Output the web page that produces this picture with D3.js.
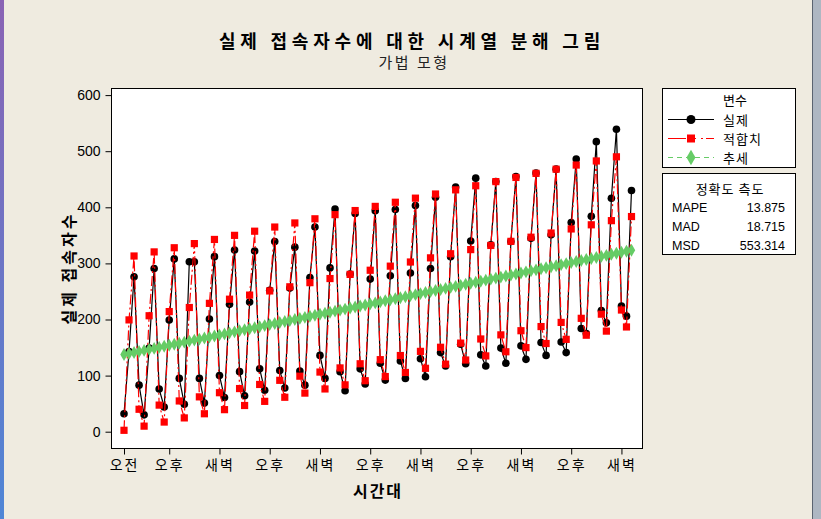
<!DOCTYPE html>
<html>
<head>
<meta charset="utf-8">
<script src="https://cdn.jsdelivr.net/npm/d3@7"></script>
<style>
  html, body { margin: 0; padding: 0; background: #EFEBE0; }
  svg { display: block; }
  text { font-family: "Liberation Sans", "Noto Sans CJK KR", sans-serif; }
</style>
</head>
<body>
<svg id="chart" width="821" height="519"></svg>
<script>
// 실제 접속자수 (시점 1..102)
const actual = [
  32, 143, 276, 83, 30, 149, 291, 76, 44, 199,
  308, 95, 49, 303, 303, 95, 51, 201, 312, 100,
  61, 227, 324, 107, 64, 231, 322, 112, 74, 252,
  339, 109, 78, 256, 329, 108, 83, 275, 365, 136,
  95, 292, 397, 107, 73, 281, 389, 112, 85, 272,
  394, 122, 92, 278, 396, 126, 95, 283, 403, 130,
  98, 291, 418, 141, 117, 312, 436, 156, 121, 340,
  452, 137, 117, 333, 446, 149, 122, 339, 455, 153,
  129, 345, 461, 159, 136, 351, 468, 160, 141, 373,
  486, 184, 175, 384, 517, 216, 194, 416, 539, 224,
  206, 430
];

// 적합치 (추세 + 계절성분)
const fitted = [
  2.5, 199.3, 313.2, 40.0, 9.9, 206.7, 320.5, 47.4, 17.2, 214.1,
  327.9, 54.8, 24.6, 221.4, 335.3, 62.1, 32.0, 228.8, 342.7, 69.5,
  39.3, 236.2, 350.0, 76.9, 46.7, 243.5, 357.4, 84.2, 54.1, 250.9,
  364.8, 91.6, 61.4, 258.3, 372.1, 99.0, 68.8, 265.7, 379.5, 106.3,
  76.2, 273.0, 386.9, 113.7, 83.5, 280.4, 394.2, 121.1, 90.9, 287.8,
  401.6, 128.4, 98.3, 295.1, 409.0, 135.8, 105.6, 302.5, 416.3, 143.2,
  113.0, 309.9, 423.7, 150.5, 120.4, 317.2, 431.1, 157.9, 127.8, 324.6,
  438.4, 165.3, 135.1, 332.0, 445.8, 172.6, 142.5, 339.3, 453.2, 180.0,
  149.9, 346.7, 460.5, 187.4, 157.2, 354.1, 467.9, 194.8, 164.6, 361.4,
  475.3, 202.1, 172.0, 368.8, 482.6, 209.5, 179.3, 376.2, 490.0, 216.9,
  186.7, 383.5
];

// 추세
const trend = [
  137.5, 139.3, 141.2, 143.0, 144.9, 146.7, 148.5, 150.4, 152.2, 154.1,
  155.9, 157.8, 159.6, 161.4, 163.3, 165.1, 167.0, 168.8, 170.7, 172.5,
  174.3, 176.2, 178.0, 179.9, 181.7, 183.5, 185.4, 187.2, 189.1, 190.9,
  192.8, 194.6, 196.4, 198.3, 200.1, 202.0, 203.8, 205.7, 207.5, 209.3,
  211.2, 213.0, 214.9, 216.7, 218.5, 220.4, 222.2, 224.1, 225.9, 227.8,
  229.6, 231.4, 233.3, 235.1, 237.0, 238.8, 240.6, 242.5, 244.3, 246.2,
  248.0, 249.9, 251.7, 253.5, 255.4, 257.2, 259.1, 260.9, 262.8, 264.6,
  266.4, 268.3, 270.1, 272.0, 273.8, 275.6, 277.5, 279.3, 281.2, 283.0,
  284.9, 286.7, 288.5, 290.4, 292.2, 294.1, 295.9, 297.8, 299.6, 301.4,
  303.3, 305.1, 307.0, 308.8, 310.6, 312.5, 314.3, 316.2, 318.0, 319.9,
  321.7, 323.5
];

const xTickIndex  = [1, 10, 20, 30, 40, 50, 60, 70, 80, 90, 100];
const xTickLabels = ["오전", "오후", "새벽", "오후", "새벽", "오후", "새벽", "오후", "새벽", "오후", "새벽"];
const yTicks = [0, 100, 200, 300, 400, 500, 600];

const legendNames = ["실제", "적합치", "추세"];
const accuracyNames = ["MAPE", "MAD", "MSD"];
const accuracyValues = ["13.875", "18.715", "553.314"];

const C_ACTUAL = "#000000", C_FIT = "#FF0000", C_TREND = "#66CC66";
const KR = "'Noto Sans CJK KR', sans-serif";

const svg = d3.select("#chart");

// window edges
const defs = svg.append("defs");
const lg = defs.append("linearGradient").attr("id", "edgeL").attr("x1", 0).attr("y1", 0).attr("x2", 0).attr("y2", 1);
lg.append("stop").attr("offset", "0%").attr("stop-color", "#8A63B4");
lg.append("stop").attr("offset", "100%").attr("stop-color", "#4F86D6");
svg.append("rect").attr("x", 0).attr("y", 0).attr("width", 821).attr("height", 519).attr("fill", "#EFEBE0");
svg.append("rect").attr("x", 0).attr("y", 0).attr("width", 4).attr("height", 519).attr("fill", "url(#edgeL)");
svg.append("rect").attr("x", 812).attr("y", 0).attr("width", 9).attr("height", 519).attr("fill", "#AEB7C2");
svg.append("line").attr("x1", 812.5).attr("x2", 812.5).attr("y1", 0).attr("y2", 519).attr("stroke", "#5B6470");

// plot frame
const P = { left: 111, top: 88, right: 642, bottom: 448 };
svg.append("rect")
  .attr("x", P.left + 0.5).attr("y", P.top + 0.5)
  .attr("width", P.right - P.left).attr("height", P.bottom - P.top)
  .attr("fill", "#FFFFFF").attr("stroke", "#000").attr("stroke-width", 1);

const x = d3.scaleLinear().domain([1, 102]).range([124, 631.5]);
const y = d3.scaleLinear().domain([0, 600]).range([431.7, 95.1]);

// axes
const gy = svg.append("g").attr("transform", `translate(${P.left + 0.5},0)`)
  .call(d3.axisLeft(y).tickValues(yTicks).tickSize(6).tickPadding(5));
gy.select(".domain").remove();
gy.selectAll("text").attr("font-size", 14).attr("fill", "#000")
  .style("font-family", "'Liberation Sans', sans-serif");
gy.selectAll("line").attr("stroke", "#000");

const gx = svg.append("g").attr("transform", `translate(0,${P.bottom + 0.5})`)
  .call(d3.axisBottom(x).tickValues(xTickIndex).tickSize(6).tickPadding(6)
    .tickFormat((d, i) => xTickLabels[i]));
gx.select(".domain").remove();
gx.selectAll("text").attr("font-size", 14).attr("fill", "#000")
  .attr("letter-spacing", 2).style("font-family", KR);
gx.selectAll("line").attr("stroke", "#000");

// titles
svg.append("text").attr("x", 412).attr("y", 48).attr("text-anchor", "middle")
  .attr("font-size", 18).attr("font-weight", "bold").attr("letter-spacing", 4.8)
  .style("font-family", KR).text("실제 접속자수에 대한 시계열 분해 그림");
svg.append("text").attr("x", 414).attr("y", 68).attr("text-anchor", "middle")
  .attr("font-size", 15).attr("letter-spacing", 2.5).attr("fill", "#222")
  .style("font-family", KR).text("가법 모형");
svg.append("text").attr("x", 378).attr("y", 497).attr("text-anchor", "middle")
  .attr("font-size", 16).attr("font-weight", "bold").attr("letter-spacing", 2)
  .style("font-family", KR).text("시간대");
svg.append("text").attr("transform", "translate(75,268) rotate(-90)").attr("text-anchor", "middle")
  .attr("font-size", 16).attr("font-weight", "bold").attr("letter-spacing", 3)
  .style("font-family", KR).text("실제 접속자수");

// series
const idx = d3.range(1, actual.length + 1);
const plot = svg.append("g");
const line = arr => d3.line().x((d, i) => x(idx[i])).y(d => y(d))(arr);

plot.append("path").attr("d", line(actual)).attr("fill", "none")
  .attr("stroke", C_ACTUAL).attr("stroke-width", 1.2);
plot.selectAll("circle.act").data(actual).join("circle").attr("class", "act")
  .attr("cx", (d, i) => x(idx[i])).attr("cy", d => y(d)).attr("r", 3.8).attr("fill", C_ACTUAL);

plot.append("path").attr("d", line(fitted)).attr("fill", "none")
  .attr("stroke", C_FIT).attr("stroke-width", 1.2).attr("stroke-dasharray", "10,3,2,3");
plot.selectAll("rect.fit").data(fitted).join("rect").attr("class", "fit")
  .attr("x", (d, i) => x(idx[i]) - 3.6).attr("y", d => y(d) - 3.6)
  .attr("width", 7.2).attr("height", 7.2).attr("fill", C_FIT);

plot.append("path").attr("d", line(trend)).attr("fill", "none")
  .attr("stroke", C_TREND).attr("stroke-width", 1.2).attr("stroke-dasharray", "5,4");
const diamond = d3.symbol().type(d3.symbolDiamond).size(48);
plot.selectAll("path.tr").data(trend).join("path").attr("class", "tr")
  .attr("transform", (d, i) => `translate(${x(idx[i])},${y(d)})`)
  .attr("d", diamond).attr("fill", C_TREND);

// legend: variables
const L = svg.append("g");
L.append("rect").attr("x", 662.5).attr("y", 88.5).attr("width", 133).attr("height", 79)
  .attr("fill", "#FFFFFF").attr("stroke", "#000");
L.append("text").attr("x", 735).attr("y", 105).attr("text-anchor", "middle")
  .attr("font-size", 13).style("font-family", KR).text("변수");
const ly = [119.5, 138.5, 157.5];
const lcol = [C_ACTUAL, C_FIT, C_TREND];
const ldash = [null, "18,2,8,5,2,3", "5,4"];
legendNames.forEach((name, i) => {
  L.append("line").attr("x1", 668).attr("x2", 714).attr("y1", ly[i]).attr("y2", ly[i])
    .attr("stroke", lcol[i]).attr("stroke-width", 1.2).attr("stroke-dasharray", ldash[i]);
  if (i === 0) L.append("circle").attr("cx", 691).attr("cy", ly[i]).attr("r", 4.5).attr("fill", lcol[i]);
  if (i === 1) L.append("rect").attr("x", 687).attr("y", ly[i] - 4).attr("width", 8).attr("height", 8).attr("fill", lcol[i]);
  if (i === 2) L.append("path").attr("transform", `translate(691,${ly[i]})`)
    .attr("d", d3.symbol().type(d3.symbolDiamond).size(70)()).attr("fill", lcol[i]);
  L.append("text").attr("x", 723).attr("y", ly[i] + 5).attr("font-size", 13)
    .attr("letter-spacing", 1).style("font-family", KR).text(name);
});

// legend: accuracy measures
L.append("rect").attr("x", 662.5).attr("y", 173.5).attr("width", 133).attr("height", 81)
  .attr("fill", "#FFFFFF").attr("stroke", "#000");
L.append("text").attr("x", 730).attr("y", 194).attr("text-anchor", "middle")
  .attr("font-size", 13).attr("letter-spacing", 1).style("font-family", KR).text("정확도 측도");
const ay = [211.5, 230.5, 249.5];
accuracyNames.forEach((name, i) => {
  L.append("text").attr("x", 672).attr("y", ay[i]).attr("font-size", 12.5).text(name);
  L.append("text").attr("x", 785).attr("y", ay[i]).attr("text-anchor", "end")
    .attr("font-size", 12.5).text(accuracyValues[i]);
});
</script>
</body>
</html>
